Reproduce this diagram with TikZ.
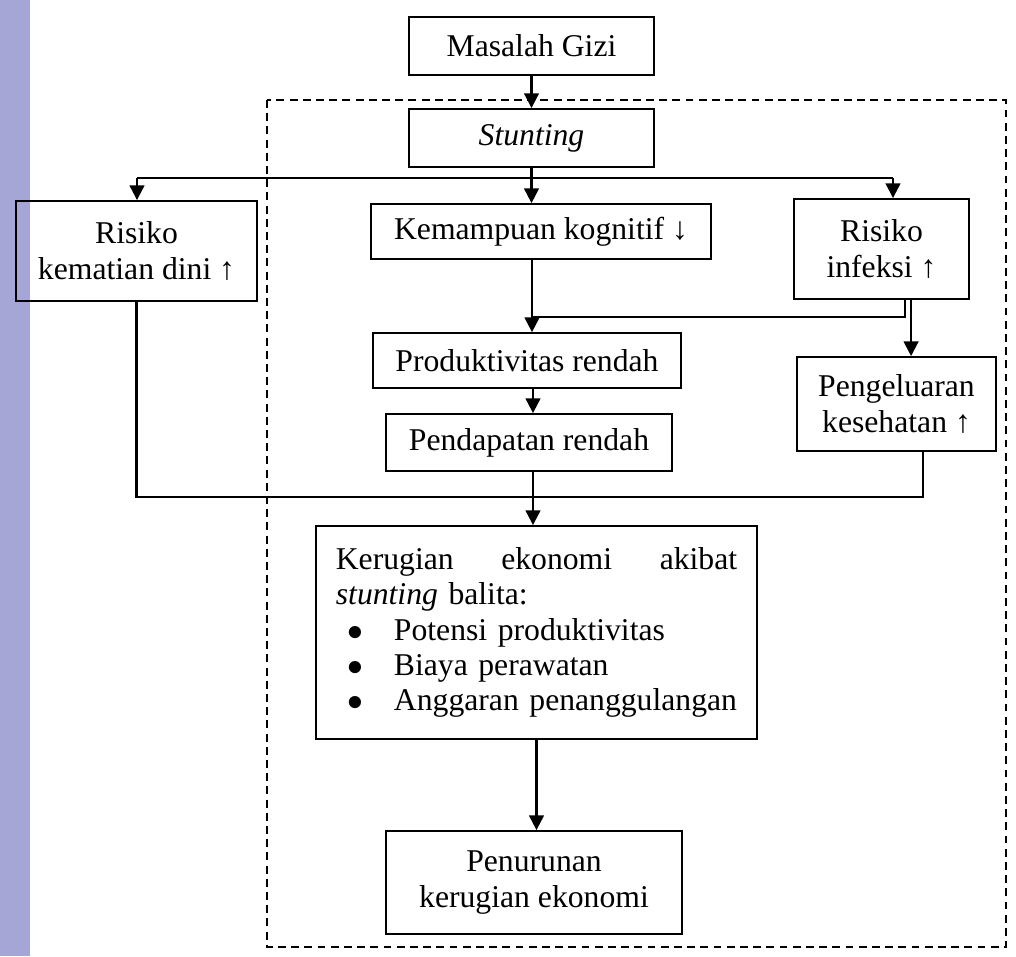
\documentclass[tikz,border=0pt]{standalone}
\usepackage{fontspec}
\setmainfont{Liberation Serif}
\usetikzlibrary{arrows.meta}
\definecolor{ungu}{RGB}{166,166,214}
\newcommand{\butir}{\hspace*{4.5pt}\makebox[17.5pt][l]{$\bullet$}}
\begin{document}
\begin{tikzpicture}[x=.3788pt,y=-.3788pt,
 font=\fontsize{12}{13.6}\selectfont,
 kotak/.style={draw,line width=.7pt,align=center,inner sep=0pt},
 panah/.style={-{Triangle[width=5.6pt,length=5.6pt]}}]
 \useasboundingbox (0,0) rectangle (1016,956);
 \fill[ungu] (0,0) rectangle (30,956);
 \draw[line width=.6pt,dash pattern=on 3pt off 2pt] (267,100) rectangle (1006,947);
 \path
 (531.5,46) node[kotak,minimum width=92.8pt,minimum height=22pt] (gizi) {Masalah Gizi}
 (531.5,138) node[kotak,minimum width=92.8pt,minimum height=22pt] (stunt) {\textit{Stunting}}
 % baris cabang
 (136.5,251) node[kotak,minimum width=91.3pt,minimum height=37.9pt] (kematian) {Risiko\\kematian dini ↑}
 (541,231.5) node[kotak,minimum width=128.8pt,minimum height=20.8pt] (kognitif) {Kemampuan kognitif ↓}
 (881.5,249) node[kotak,minimum width=66.3pt,minimum height=37.9pt] (infeksi) {Risiko\\infeksi ↑}
 (527,360.5) node[kotak,minimum width=116.7pt,minimum height=20.8pt] (produk) {Produktivitas rendah}
 (529,442.5) node[kotak,minimum width=108.3pt,minimum height=21.6pt] (pendapatan) {Pendapatan rendah}
 (896.5,404) node[kotak,minimum width=75.4pt,minimum height=35.6pt] (pengeluaran) {Pengeluaran\\kesehatan ↑}
 % kerugian
 (536.5,632.5) node[kotak,align=left,text width=152pt,inner xsep=7.5pt,minimum height=80.7pt,
 font=\fontsize{12}{13.3}\selectfont] (kerugian)
 {Kerugian\hfill ekonomi\hfill akibat\\
 \mbox{\textit{stunting} balita:}\\
 \mbox{\butir Potensi produktivitas}\\
 \mbox{\butir Biaya perawatan}\\
 \mbox{\butir Anggaran penanggulangan}}
 (534,882.5) node[kotak,minimum width=112.1pt,minimum height=39pt] (penurunan) {Penurunan\\kerugian ekonomi};
 \coordinate (ka) at (137,178);
 \coordinate (kn) at (893,178);
 \coordinate (gabung) at (532,317);
 \coordinate (bawah) at (533,497);
 \begin{scope}[line width=.8pt]
 \draw[panah] (gizi) -- (stunt);
 \draw (ka) -- (kn);
 \draw[panah] (stunt.south) -- (stunt.south |- kognitif.north);
 \draw[panah] (ka) -- (ka |- kematian.north);
 \draw[panah] (kn) -- (kn |- infeksi.north);
 \draw[panah] (kognitif.south -| gabung) -- (gabung |- produk.north);
 \draw ([xshift=8.9pt]infeksi.south) |- (gabung);
 \draw[panah] ([xshift=11.2pt]infeksi.south) -- ([xshift=11.2pt]infeksi.south |- pengeluaran.north);
 \draw[panah] (produk.south -| bawah) -- (bawah |- pendapatan.north);
 \draw[panah] (pendapatan.south -| bawah) -- (bawah |- kerugian.north);
 \draw (kematian.south) |- (bawah) -| ([xshift=10pt]pengeluaran.south);
 \draw[panah] (kerugian.south) -- (kerugian.south |- penurunan.north);
 \end{scope}
\end{tikzpicture}
\end{document}
